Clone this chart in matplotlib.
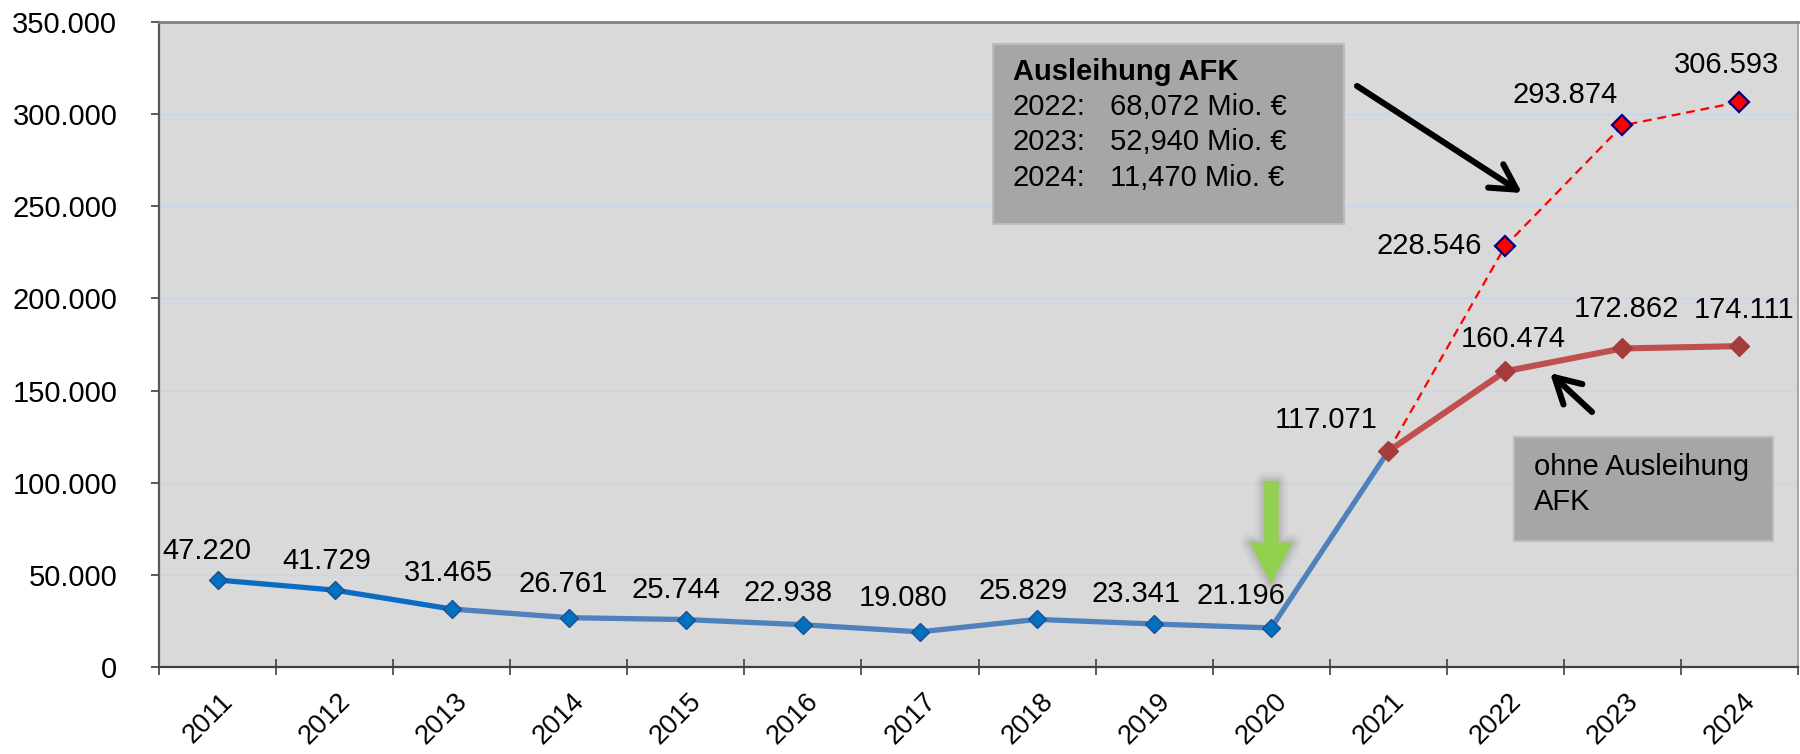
import matplotlib
matplotlib.use('Agg')
import matplotlib.pyplot as plt
import matplotlib.patheffects as pe
from matplotlib.patches import Rectangle
from matplotlib.transforms import ScaledTranslation
from matplotlib.ticker import FuncFormatter, MultipleLocator, FixedLocator

plt.rcParams['font.family'] = ['Liberation Sans', 'DejaVu Sans']

# ---------------- data ----------------
years = ['2011', '2012', '2013', '2014', '2015', '2016', '2017',
         '2018', '2019', '2020', '2021', '2022', '2023', '2024']
ist_values = [47220, 41729, 31465, 26761, 25744, 22938, 19080,
              25829, 23341, 21196, 117071]            # 2011-2021
ohne_values = [117071, 160474, 172862, 174111]        # 2021-2024 ohne Ausleihung AFK
mit_values = [117071, 228546, 293874, 306593]         # 2021-2024 mit Ausleihung AFK
afk_years = ['2022:', '2023:', '2024:']
afk_amounts = ['68,072 Mio. €', '52,940 Mio. €', '11,470 Mio. €']

# label offsets in pixels (style only)
ist_label_off = [(-11, 29), (-8, 29), (-3, 36), (-6, 34), (-10, 30), (-15, 32),
                 (-17, 34), (-14, 28), (-18, 30), (-30, 32), (-62, 31)]
ohne_label_off = [None, (8, 32), (4, 39), (5, 36)]
mit_label_off = [None, (-76, 0), (-57, 30), (-13, 37)]


def de(v):
    return f"{int(v):,}".replace(',', '.')


W, H = 1800, 754
fig = plt.figure(figsize=(W / 100, H / 100), dpi=100)
L, R, T, B = 159, 1798, 22, 667
ax = fig.add_axes([L / W, (H - B) / H, (R - L) / W, (B - T) / H])
ax.set_facecolor('#d9d9d9')
ax.set_xlim(-0.5, len(years) - 0.5)
ax.set_ylim(0, 350000)

# grid
ax.yaxis.set_major_locator(MultipleLocator(50000))
ax.yaxis.set_major_formatter(FuncFormatter(lambda v, p: de(v)))
ax.grid(axis='y', color='#c5d5ef', lw=1.0, zorder=0)
ax.set_axisbelow(True)

# spines
ax.spines['left'].set_color('#595959')
ax.spines['left'].set_linewidth(1.6)
ax.spines['bottom'].set_color('#404040')
ax.spines['bottom'].set_linewidth(1.6)
ax.spines['top'].set_color('#808080')
ax.spines['top'].set_linewidth(2.0)
ax.spines['right'].set_color('#a6a6a6')
ax.spines['right'].set_linewidth(1.5)

# ticks
ax.tick_params(axis='y', length=6, width=1.2, color='#404040', pad=24,
               labelsize=21, labelcolor='black')
ax.set_xticks(range(len(years)))
ax.set_xticklabels(years, rotation=45, ha='right', va='center',
                   rotation_mode='anchor', fontsize=19.5)
ax.tick_params(axis='x', which='major', length=0, pad=22)
ax.xaxis.set_minor_locator(FixedLocator([i - 0.5 for i in range(len(years) + 1)]))
ax.tick_params(axis='x', which='minor', length=12, width=1.2,
               direction='inout', color='#404040')
for lab in ax.get_xticklabels():
    lab.set_transform(lab.get_transform() + ScaledTranslation(12 / 100, 0, fig.dpi_scale_trans))

# ---------------- series ----------------
ix = list(range(len(ist_values)))
ax.plot(ix[:3], ist_values[:3], color='#0a6cc2', lw=3.8, zorder=3,
        solid_capstyle='butt', solid_joinstyle='round')
ax.plot(ix[2:], ist_values[2:], color='#4f81bd', lw=3.8, zorder=3,
        solid_capstyle='butt', solid_joinstyle='round')
ax.plot(ix[:-1], ist_values[:-1], ls='none', marker='D', ms=9.5,
        mfc='#0070c0', mec='#1f4e8f', mew=1.0, zorder=4)

ox = list(range(len(ist_values) - 1, len(years)))
ax.plot(ox, mit_values, color='#ff0000', lw=1.6, ls=(0, (4, 2.6)),
        marker='D', ms=10, mfc='#ff0000', mec='#000080', mew=1.6,
        markevery=[1, 2, 3], zorder=3)
ax.plot(ox, ohne_values, color='#c0504d', lw=4.4, marker='D', ms=10,
        mfc='#a53b3b', mec='#a53b3b', mew=1.0, zorder=5,
        solid_joinstyle='round')

# ---------------- labels ----------------
def put(xv, yv, off):
    ax.annotate(de(yv), (xv, yv), xytext=off, textcoords='offset pixels',
                ha='center', va='center', fontsize=21, color='black', zorder=6)

for i, v in enumerate(ist_values):
    put(i, v, ist_label_off[i])
for k, v in enumerate(ohne_values):
    if ohne_label_off[k] is not None:
        put(ox[k], v, ohne_label_off[k])
for k, v in enumerate(mit_values):
    if mit_label_off[k] is not None:
        put(ox[k], v, mit_label_off[k])


def fx(px):
    return (px - L) / (R - L)


def fy(py):
    return (B - py) / (B - T)


# ---------------- boxes ----------------
box1 = Rectangle((fx(993), fy(224)), fx(1344) - fx(993), fy(44) - fy(224),
                 transform=ax.transAxes, facecolor='#a6a6a6', edgecolor='#bcbcbc',
                 lw=1.5, zorder=7)
ax.add_patch(box1)
ax.text(fx(1013), fy(72), 'Ausleihung AFK', transform=ax.transAxes,
        fontsize=21, fontweight='bold', ha='left', va='center', zorder=8)
for j, (yr, amt) in enumerate(zip(afk_years, afk_amounts)):
    yy = fy(107 + 35.5 * j)
    ax.text(fx(1013), yy, yr, transform=ax.transAxes, fontsize=21,
            ha='left', va='center', zorder=8)
    ax.text(fx(1110), yy, amt, transform=ax.transAxes, fontsize=21,
            ha='left', va='center', zorder=8)

box2 = Rectangle((fx(1514), fy(541)), fx(1773) - fx(1514), fy(437) - fy(541),
                 transform=ax.transAxes, facecolor='#a6a6a6', edgecolor='#bcbcbc',
                 lw=1.5, zorder=7)
ax.add_patch(box2)
ax.text(fx(1534), fy(467), 'ohne Ausleihung', transform=ax.transAxes,
        fontsize=21, ha='left', va='center', zorder=8)
ax.text(fx(1534), fy(502), 'AFK', transform=ax.transAxes,
        fontsize=21, ha='left', va='center', zorder=8)

# ---------------- arrows ----------------
ax.annotate('', xy=(fx(1522), fy(193)), xytext=(fx(1357), fy(86)),
            xycoords='axes fraction', textcoords='axes fraction',
            arrowprops=dict(arrowstyle='->,head_length=0.9,head_width=0.5',
                            mutation_scale=20, lw=4.4, color='black',
                            shrinkA=0, shrinkB=0),
            zorder=9)
ax.annotate('', xy=(fx(1550), fy(373)), xytext=(fx(1592), fy(412)),
            xycoords='axes fraction', textcoords='axes fraction',
            arrowprops=dict(arrowstyle='->,head_length=0.9,head_width=0.5',
                            mutation_scale=20, lw=4.4, color='black',
                            shrinkA=0, shrinkB=0),
            zorder=9)

# green arrow pointing at 2020
green = ax.annotate('', xy=(9, 45500), xytext=(9, 100500),
                    arrowprops=dict(arrowstyle='simple,head_length=2.9,head_width=3.0,tail_width=1.0',
                                    mutation_scale=10, facecolor='#92d050',
                                    edgecolor='#92d050', lw=0.5,
                                    shrinkA=0, shrinkB=0),
                    zorder=6)
green.arrow_patch.set_path_effects([
    pe.Stroke(linewidth=14, foreground='#808080', alpha=0.08),
    pe.Stroke(linewidth=9, foreground='#808080', alpha=0.12),
    pe.Stroke(linewidth=5, foreground='#808080', alpha=0.18),
    pe.Normal()])

fig.savefig('out.png', dpi=100)
